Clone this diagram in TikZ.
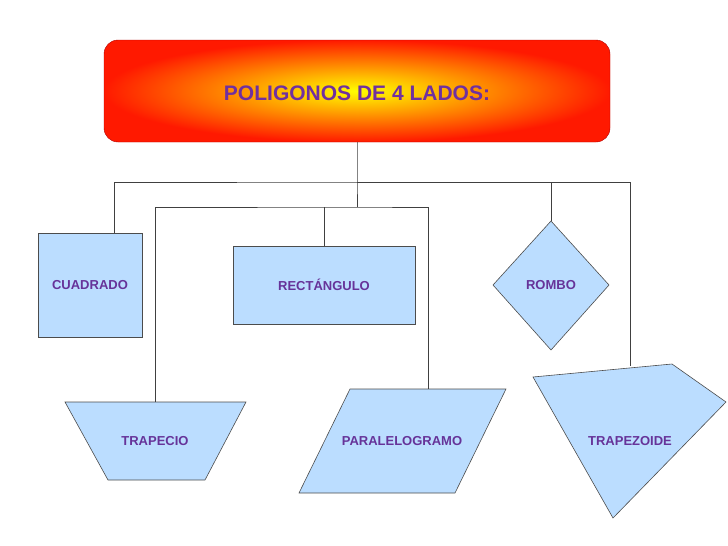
\documentclass[tikz,border=0pt]{standalone}
\usepackage{fontspec}
\setmainfont{Liberation Sans}
\usetikzlibrary{shapes.geometric}
\definecolor{fillb}{RGB}{187,221,255}
\definecolor{txt}{RGB}{102,51,153}
\definecolor{ttl}{RGB}{112,48,160}
\tikzset{
  shp/.style={draw=black!70, fill=fillb, line width=0.6pt},
  lab/.style={font=\fontsize{13}{15}\selectfont\bfseries, text=txt},
  conn/.style={draw=black!75, line width=0.7pt}
}
\begin{document}
\begin{tikzpicture}[x=1pt,y=-1pt]
\useasboundingbox (0,0) rectangle (728,546);
% title box
\shade[inner color=yellow, outer color=red!80!orange, rounded corners=14pt, draw=red!70!black]
  (104,40) rectangle (610,142);
\node (title) [font=\fontsize{21}{24}\selectfont\bfseries, text=ttl] at (357,93) {POLIGONOS DE 4 LADOS:};
\coordinate (tb) at (357,142);
\coordinate (h1) at (357,182);
\coordinate (h2) at (357,207);
% shapes
\draw[shp] (38,233) rectangle (142,337);
\node (cua) [lab] at (90,285) {CUADRADO};
\coordinate (cuaT) at (114,233);
\draw[shp] (233,246) rectangle (415,324);
\node (rec) [lab] at (324,285) {RECTÁNGULO};
\coordinate (recT) at (324,246);
\draw[shp] (551,221) -- (609,285) -- (551,350) -- (493,285) -- cycle;
\node (rom) [lab] at (551,285) {ROMBO};
\coordinate (romT) at (551,221);
\draw[shp] (65,402) -- (246,402) -- (205,480) -- (108,480) -- cycle;
\node (tra) [lab] at (155,441) {TRAPECIO};
\coordinate (traT) at (155,402);
\draw[shp] (350,389) -- (506,389) -- (455,493) -- (299,493) -- cycle;
\node (par) [lab] at (402,441) {PARALELOGRAMO};
\coordinate (parT) at (428,389);
\draw[shp] (533,377) -- (672,364) -- (726,402) -- (613,518) -- cycle;
\node (tz) [lab] at (630,441) {TRAPEZOIDE};
\coordinate (tzT) at (630,366);
% connectors
\draw[conn] (tb) -- (h1) -- (h2);
\draw[conn] (cuaT) |- (h1) -| (romT);
\draw[conn] (h1) -| (tzT);
\draw[conn] (traT) |- (h2) -| (parT);
\draw[conn] (recT) -- (recT |- h2);
\end{tikzpicture}
\end{document}
